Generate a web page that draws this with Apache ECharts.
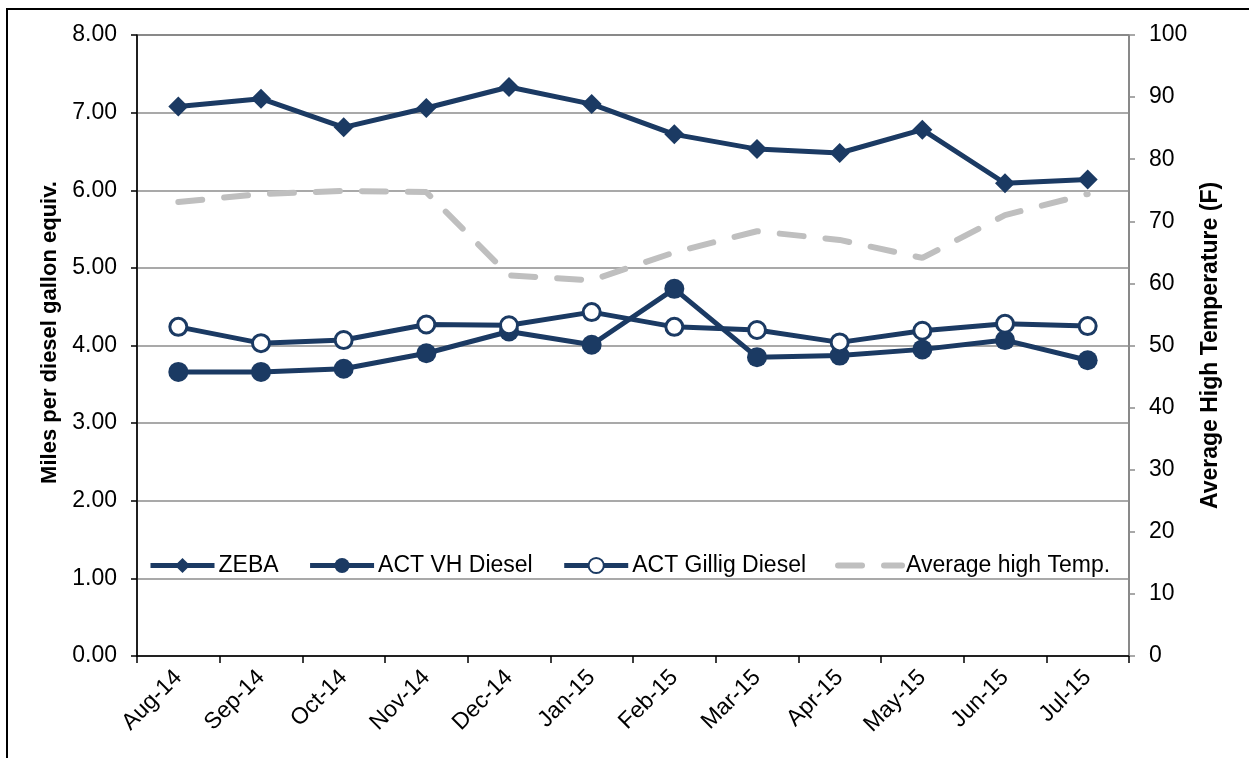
<!DOCTYPE html>
<html>
<head>
<meta charset="utf-8">
<script src="https://cdn.jsdelivr.net/npm/echarts@6/dist/echarts.min.js"></script>
<style>
  html, body { margin: 0; padding: 0; background: #fff; }
  #chart { width: 1249px; height: 758px; }
</style>
</head>
<body>
<div id="chart"></div>
<script>
const months = ['Aug-14', 'Sep-14', 'Oct-14', 'Nov-14', 'Dec-14', 'Jan-15',
  'Feb-15', 'Mar-15', 'Apr-15', 'May-15', 'Jun-15', 'Jul-15']
const zeba = [7.08, 7.18, 6.81, 7.06, 7.33, 7.11, 6.72, 6.53, 6.48, 6.78, 6.09, 6.14]
const actVH = [3.66, 3.66, 3.70, 3.90, 4.18, 4.01, 4.73, 3.85, 3.87, 3.95, 4.07, 3.81]
const actGillig = [4.24, 4.03, 4.07, 4.27, 4.26, 4.43, 4.24, 4.20, 4.04, 4.19, 4.28, 4.25]
const avgTemp = [73.1, 74.4, 74.9, 74.7, 61.3, 60.5, 65.0, 68.4, 67.0, 64.1, 71.0, 74.4]

const navy = '#1b3a63'
const grey = '#bfbfbf'
const font = 'Liberation Sans, Arial, sans-serif'

let myChart = echarts.init(document.getElementById('chart'))

myChart.setOption({
  animation: false,
  textStyle: { fontFamily: font },
  graphic: [
    {
      type: 'rect',
      shape: { x: 7, y: 9, width: 1300, height: 800 },
      style: { fill: 'none', stroke: '#000', lineWidth: 2 },
      silent: true
    }
  ],
  grid: {
    left: 137, right: 120, top: 35, bottom: 102,
    show: true, borderColor: '#000', borderWidth: 1, backgroundColor: 'transparent'
  },
  legend: {
    left: 143,
    top: 549,
    itemGap: 29,
    itemWidth: 64,
    itemHeight: 19,
    textStyle: { fontSize: 23, color: '#000', fontFamily: font, padding: [0, 0, 0, -1] },
    data: [
      { name: 'ZEBA', lineStyle: { width: 5 } },
      { name: 'ACT VH Diesel', lineStyle: { width: 5 } },
      { name: 'ACT Gillig Diesel', lineStyle: { width: 5 } },
      { name: 'Average high Temp.', lineStyle: { width: 6 }, itemStyle: { opacity: 0 } }
    ]
  },
  xAxis: {
    type: 'category',
    data: months,
    boundaryGap: true,
    axisLine: { lineStyle: { color: '#000', width: 1.5 } },
    axisTick: { show: true, length: 7, alignWithLabel: false, lineStyle: { color: '#000', width: 1.5 } },
    axisLabel: { rotate: 45, fontSize: 23, color: '#000', margin: 18, interval: 0 }
  },
  yAxis: [
    {
      type: 'value',
      min: 0, max: 8, interval: 1,
      name: 'Miles per diesel gallon equiv.',
      nameLocation: 'middle',
      nameGap: 74,
      nameRotate: 90,
      nameTextStyle: { fontSize: 22, fontWeight: 'bold', color: '#000', padding: [0, 0, 0, 26] },
      axisLine: { show: true, lineStyle: { color: '#000', width: 1.5 } },
      axisTick: { show: true, length: 6, lineStyle: { color: '#000', width: 1.5 } },
      axisLabel: { fontSize: 23, color: '#000', margin: 20, formatter: v => v.toFixed(2) },
      splitLine: { show: true, lineStyle: { color: '#8c8c8c', width: 1.5 } }
    },
    {
      type: 'value',
      min: 0, max: 100, interval: 10,
      position: 'right',
      name: 'Average High Temperature (F)',
      nameLocation: 'middle',
      nameGap: 70,
      nameRotate: 90,
      nameTextStyle: { fontSize: 23, fontWeight: 'bold', color: '#000' },
      axisLine: { show: true, lineStyle: { color: '#8c8c8c', width: 1.5 } },
      axisTick: { show: true, length: 6, lineStyle: { color: '#8c8c8c', width: 1.5 } },
      axisLabel: { fontSize: 23, color: '#000', margin: 20 },
      splitLine: { show: false }
    }
  ],
  series: [
    {
      name: 'ZEBA',
      type: 'line',
      data: zeba,
      symbol: 'diamond',
      symbolSize: 20,
      itemStyle: { color: navy },
      lineStyle: { color: navy, width: 5 },
      z: 5
    },
    {
      name: 'ACT VH Diesel',
      type: 'line',
      data: actVH,
      symbol: 'circle',
      symbolSize: 20,
      itemStyle: { color: navy },
      lineStyle: { color: navy, width: 5 },
      z: 5
    },
    {
      name: 'ACT Gillig Diesel',
      type: 'line',
      data: actGillig,
      symbol: 'circle',
      symbolSize: 17,
      itemStyle: { color: '#fff', borderColor: navy, borderWidth: 3 },
      lineStyle: { color: navy, width: 5 },
      z: 5
    },
    {
      name: 'Average high Temp.',
      type: 'line',
      yAxisIndex: 1,
      data: avgTemp,
      symbol: 'none',
      itemStyle: { color: grey },
      lineStyle: { color: grey, width: 6, type: [24, 22], cap: 'round' },
      z: 2
    }
  ]
})
</script>
</body>
</html>
